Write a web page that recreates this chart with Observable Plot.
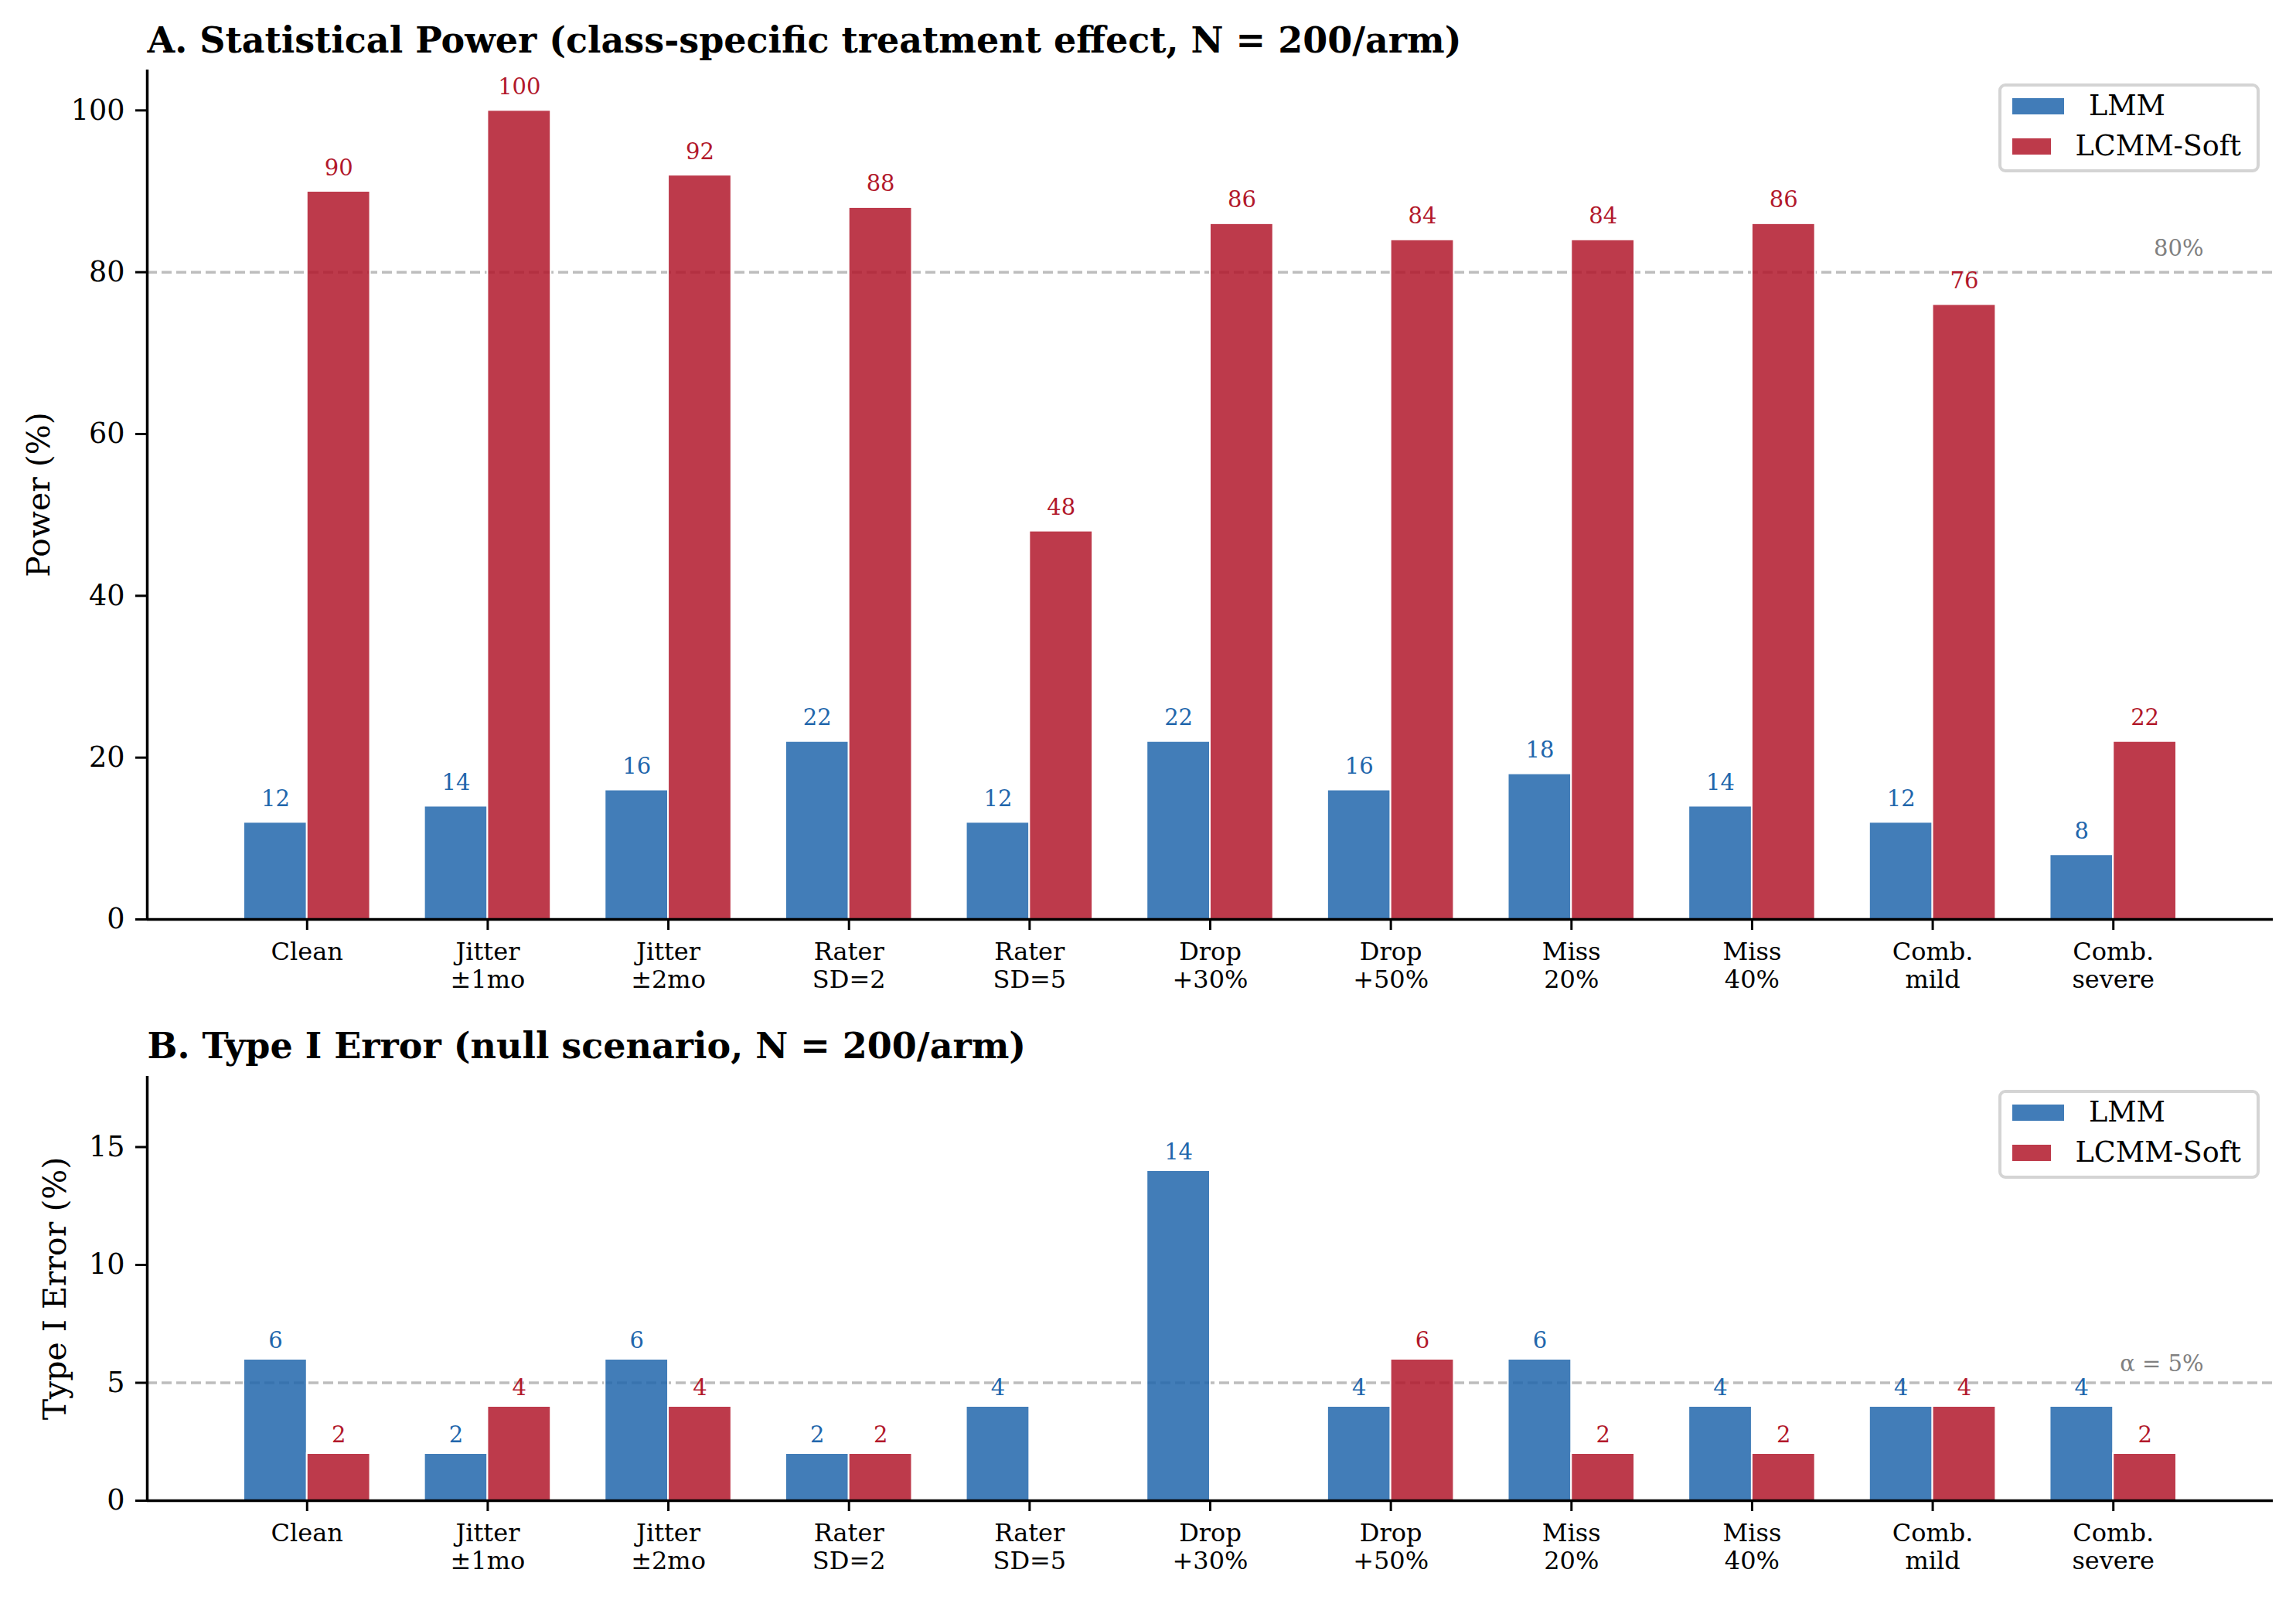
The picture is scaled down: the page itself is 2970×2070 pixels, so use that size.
<!DOCTYPE html>
<html>
<head>
<meta charset="utf-8">
<script src="https://cdn.jsdelivr.net/npm/d3@7"></script>
<script src="https://cdn.jsdelivr.net/npm/@observablehq/plot@0.6"></script>
<style>
  html, body { margin: 0; padding: 0; background: #fff; }
  #root { position: relative; width: 2970px; height: 2070px; background: #fff; font-family: "DejaVu Serif", serif; overflow: hidden; }
  .panel { position: absolute; left: 0; }
  .legend { position: absolute; box-sizing: border-box; border: 4px solid #d4d4d4; border-radius: 9px; background: rgba(255,255,255,0.8); padding: 14px 20px 0 13px; }
  .legend .row { display: flex; align-items: center; height: 23px; margin-bottom: 29px; }
  .legend .sw { width: 69px; height: 23px; margin-right: 31px; box-sizing: border-box; border: 1px solid #fff; }
  .legend .lab { font-size: 36.5px; line-height: 1; color: #000; white-space: nowrap; }
</style>
</head>
<body>
<div id="root"></div>
<script>
// ---- data ----
const categories = ["Clean", "Jitter\n±1mo", "Jitter\n±2mo", "Rater\nSD=2", "Rater\nSD=5", "Drop\n+30%", "Drop\n+50%", "Miss\n20%", "Miss\n40%", "Comb.\nmild", "Comb.\nsevere"];
const methods = ["LMM", "LCMM-Soft"];
const powerLMM = [12, 14, 16, 22, 12, 22, 16, 18, 14, 12, 8];
const powerLCMM = [90, 100, 92, 88, 48, 86, 84, 84, 86, 76, 22];
const type1LMM = [6, 2, 6, 2, 4, 14, 4, 6, 4, 4, 4];
const type1LCMM = [2, 4, 4, 2, 0, 0, 6, 2, 2, 4, 2];
const powerTicks = [0, 20, 40, 60, 80, 100];
const type1Ticks = [0, 5, 10, 15];
const barColors = ["#2166ac", "#b2182b"];
const textColors = ["#2166ac", "#b2182b"];

const BAR_W = 0.35;
const FONT = "DejaVu Serif";

function rows(lmm, lcmm) {
  const out = [];
  categories.forEach((c, i) => {
    out.push({i, cat: c, method: methods[0], k: 0, value: lmm[i]});
    out.push({i, cat: c, method: methods[1], k: 1, value: lcmm[i]});
  });
  return out;
}

function panel(opts) {
  const data = rows(opts.lmm, opts.lcmm);
  const xDomain = [-BAR_W - 0.535, categories.length - 1 + BAR_W + 0.535];
  return Plot.plot({
    width: 2970,
    height: opts.height,
    marginTop: opts.marginTop,
    marginBottom: opts.marginBottom,
    marginLeft: 190,
    marginRight: 30,
    style: {fontFamily: FONT, background: "white", overflow: "visible"},
    x: {type: "linear", domain: xDomain, axis: null},
    y: {domain: opts.yDomain, axis: null},
    marks: [
      Plot.ruleY([opts.refY], {stroke: "#bdbdbd", strokeWidth: 3.5, strokeDasharray: "13,6"}),
      Plot.text([opts.refLabel], {x: categories.length - 0.5, y: opts.refY, text: d => d, textAnchor: "end", lineAnchor: "bottom", dy: -opts.refDy, fill: "#808080", fontSize: 29}),
      Plot.rectY(data, {
        x1: d => d.i + (d.k === 0 ? -BAR_W : 0),
        x2: d => d.i + (d.k === 0 ? 0 : BAR_W),
        y: "value",
        fill: d => barColors[d.k],
        fillOpacity: 0.85,
        stroke: "white",
        strokeWidth: 2
      }),
      Plot.text(data.filter(d => d.value > 0), {
        x: d => d.i + (d.k === 0 ? -BAR_W / 2 : BAR_W / 2),
        y: "value",
        text: d => String(d.value),
        fill: d => textColors[d.k],
        fontSize: 29,
        lineAnchor: "bottom",
        dy: -opts.labelDy
      }),
      Plot.axisX({ticks: d3.range(categories.length), tickFormat: i => categories[i], tickSize: 14, tickPadding: 13, strokeWidth: 3, fontSize: 32, lineHeight: 1.125, label: null, fill: "black"}),
      Plot.axisY({ticks: opts.yTicks, tickSize: 15, tickPadding: 14, strokeWidth: 3, fontSize: 36.6, label: null, fill: "black"}),
      Plot.ruleY([0], {stroke: "black", strokeWidth: 3.5}),
      Plot.ruleX([xDomain[0]], {stroke: "black", strokeWidth: 3.5}),
      Plot.text([opts.ylabel], {frameAnchor: "left", text: d => d, rotate: -90, dx: -opts.ylabelDx, fontSize: 41, textAnchor: "middle", lineAnchor: "middle", fill: "black"}),
      Plot.text([opts.title], {frameAnchor: "top-left", text: d => d, textAnchor: "start", lineAnchor: "bottom", dy: -opts.titleDy, fontSize: 46, fontWeight: "bold", fill: "black"})
    ]
  });
}

function legend(top) {
  const el = document.createElement("div");
  el.className = "legend";
  el.style.left = "2585px";
  el.style.top = top + "px";
  el.style.width = "338px";
  el.style.height = "115px";
  methods.forEach((m, k) => {
    const r = document.createElement("div");
    r.className = "row";
    const sw = document.createElement("div");
    sw.className = "sw";
    sw.style.background = barColors[k];
    sw.style.opacity = 0.85;
    const lab = document.createElement("div");
    lab.className = "lab";
    lab.textContent = m;
    r.appendChild(sw); r.appendChild(lab);
    el.appendChild(r);
  });
  return el;
}

const root = document.getElementById("root");

const pA = panel({
  lmm: powerLMM, lcmm: powerLCMM, yDomain: [0, 105], yTicks: powerTicks,
  refY: 80, refLabel: "80%", refDy: 21, labelDy: 21,
  title: "A. Statistical Power (class-specific treatment effect, N = 200/arm)",
  ylabel: "Power (%)", ylabelDx: 140, titleDy: 23,
  height: 1300, marginTop: 90, marginBottom: 111
});
const wA = document.createElement("div");
wA.className = "panel"; wA.style.top = "0px";
wA.appendChild(pA);
root.appendChild(wA);

const pB = panel({
  lmm: type1LMM, lcmm: type1LCMM, yDomain: [0, 18], yTicks: type1Ticks,
  refY: 5, refLabel: "α = 5%", refDy: 15, labelDy: 15,
  title: "B. Type I Error (null scenario, N = 200/arm)",
  ylabel: "Type I Error (%)", ylabelDx: 119, titleDy: 24,
  height: 770, marginTop: 92, marginBottom: 129
});
const wB = document.createElement("div");
wB.className = "panel"; wB.style.top = "1300px";
wB.appendChild(pB);
root.appendChild(wB);

root.appendChild(legend(108));
root.appendChild(legend(1410));
</script>
</body>
</html>
